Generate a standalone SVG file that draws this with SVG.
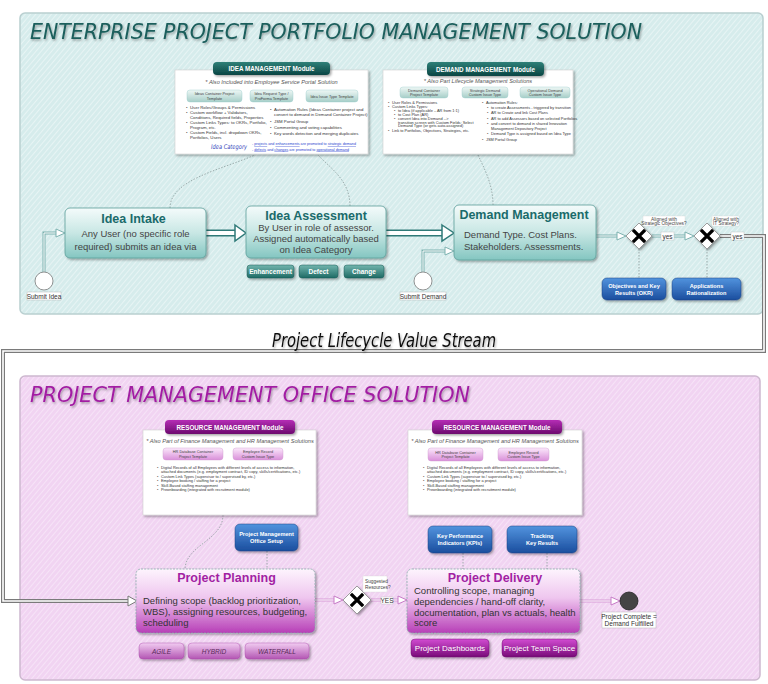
<svg xmlns="http://www.w3.org/2000/svg" width="768" height="684" viewBox="0 0 768 684">
<defs>
<pattern id="hatchT" width="4" height="4" patternUnits="userSpaceOnUse" patternTransform="rotate(40)">
<rect width="4" height="4" fill="#d6ecec"/><line x1="0" y1="0" x2="0" y2="4" stroke="#f3fbfb" stroke-width="1.2"/>
</pattern>
<pattern id="hatchP" width="4" height="4" patternUnits="userSpaceOnUse" patternTransform="rotate(40)">
<rect width="4" height="4" fill="#f1d4f2"/><line x1="0" y1="0" x2="0" y2="4" stroke="#fbeefb" stroke-width="1.2"/>
</pattern>
<linearGradient id="gTN" x1="0" y1="0" x2="0" y2="1"><stop offset="0" stop-color="#f4fbfb"/><stop offset="0.5" stop-color="#c8e7e4"/><stop offset="1" stop-color="#84c6c1"/></linearGradient>
<linearGradient id="gTB" x1="0" y1="0" x2="0" y2="1"><stop offset="0" stop-color="#72b5ae"/><stop offset="1" stop-color="#1d6a64"/></linearGradient>
<linearGradient id="gTH" x1="0" y1="0" x2="0" y2="1"><stop offset="0" stop-color="#2f8078"/><stop offset="1" stop-color="#0a4543"/></linearGradient>
<linearGradient id="gMT" x1="0" y1="0" x2="0" y2="1"><stop offset="0" stop-color="#eef7f5"/><stop offset="1" stop-color="#a6cec8"/></linearGradient>
<linearGradient id="gPN" x1="0" y1="0" x2="0" y2="1"><stop offset="0" stop-color="#fdf4fd"/><stop offset="0.45" stop-color="#efc6ef"/><stop offset="1" stop-color="#b73fb7"/></linearGradient>
<linearGradient id="gPB" x1="0" y1="0" x2="0" y2="1"><stop offset="0" stop-color="#f1ccf1"/><stop offset="1" stop-color="#b355b3"/></linearGradient>
<linearGradient id="gMB" x1="0" y1="0" x2="0" y2="1"><stop offset="0" stop-color="#d24cd2"/><stop offset="1" stop-color="#780a78"/></linearGradient>
<linearGradient id="gPH" x1="0" y1="0" x2="0" y2="1"><stop offset="0" stop-color="#b52db5"/><stop offset="1" stop-color="#6c0a6e"/></linearGradient>
<linearGradient id="gMP" x1="0" y1="0" x2="0" y2="1"><stop offset="0" stop-color="#fbe8fb"/><stop offset="1" stop-color="#d98fd9"/></linearGradient>
<linearGradient id="gBL" x1="0" y1="0" x2="0" y2="1"><stop offset="0" stop-color="#5193de"/><stop offset="1" stop-color="#1b4e9e"/></linearGradient>
<filter id="sh" x="-10%" y="-10%" width="130%" height="140%"><feDropShadow dx="1.5" dy="1.5" stdDeviation="1.2" flood-color="#000" flood-opacity="0.35"/></filter>
<filter id="tsh" x="-5%" y="-20%" width="110%" height="150%"><feDropShadow dx="1" dy="1.5" stdDeviation="0.8" flood-color="#000" flood-opacity="0.35"/></filter>
</defs>
<style>
text{font-family:"Liberation Sans",Arial,sans-serif}
.hand{font-family:"DejaVu Sans Condensed","DejaVu Sans",sans-serif;font-style:italic}
.card{fill:#fff;stroke:#d0d0d0;stroke-width:0.6;filter:url(#sh)}
.hd{font-size:6.3px;font-weight:bold;fill:#fff;text-anchor:middle}
.sub{font-size:5.6px;font-style:italic;fill:#555;text-anchor:middle}
.mbt{font-size:3.8px;fill:#444;text-anchor:middle}
.tiny{font-size:4.3px;fill:#333}
.tiny4{font-size:3.9px;fill:#333}
.ntT{font-size:12.5px;font-weight:bold;fill:#1a6b6b;text-anchor:middle}
.ntP{font-size:12.5px;font-weight:bold;fill:#a21fa3;text-anchor:middle}
.body{font-size:9.5px;fill:#444}
.bodyP{font-size:9.5px;fill:#333}
.tb{font-size:6.5px;fill:#fff;font-weight:bold;text-anchor:middle}
.bb{font-size:5.6px;fill:#fff;font-weight:bold;text-anchor:middle}
.lbl{font-size:6.5px;fill:#333;text-anchor:middle}
.gl{font-size:4.8px;fill:#444}
.dash{fill:none;stroke:#8a9a9a;stroke-width:0.8;stroke-dasharray:1.5 1.5}
.gx{stroke:#000;stroke-width:3.2;stroke-linecap:square}
</style>

<!-- panels -->
<g id="panel-eppm">
<rect x="20" y="13" width="743" height="301" rx="5" fill="url(#hatchT)" stroke="#b9cfd0" stroke-width="1.5"/>
<text class="hand" x="30" y="39" font-size="22" fill="#1b5e5c" textLength="612" lengthAdjust="spacingAndGlyphs" filter="url(#tsh)">ENTERPRISE PROJECT PORTFOLIO MANAGEMENT  SOLUTION</text>
</g>
<g id="panel-pmo">
<rect x="20" y="376" width="740" height="304" rx="5" fill="url(#hatchP)" stroke="#cdb8cf" stroke-width="1.5"/>
<text class="hand" x="30" y="402" font-size="21" fill="#a21fa3" textLength="440" lengthAdjust="spacingAndGlyphs" filter="url(#tsh)">PROJECT MANAGEMENT OFFICE SOLUTION</text>
</g>

<!-- connectors -->
<g id="connectors">
<path d="M738 236 H764 V351 H3 V601 H130" fill="none" stroke="#7a7a7a" stroke-width="4"/>
<path d="M738 236 H764 V351 H3 V601 H130" fill="none" stroke="#fff" stroke-width="1.6"/>
<polygon points="128,596 137,601 128,606" fill="#fff" stroke="#7a7a7a" stroke-width="1"/>
<text class="hand" x="272" y="347" font-size="19" fill="#111" textLength="224" lengthAdjust="spacingAndGlyphs" filter="url(#tsh)">Project Lifecycle Value Stream</text>

<path d="M44 272 V233 H57" fill="none" stroke="#7db2b0" stroke-width="3"/>
<path d="M44 272 V233 H57" fill="none" stroke="#fff" stroke-width="1"/>
<polygon points="56,229 65,233 56,237" fill="#fff" stroke="#7db2b0" stroke-width="1"/>
<path d="M206 233 H237" fill="none" stroke="#2f7a78" stroke-width="7"/>
<path d="M206 233 H237" fill="none" stroke="#fff" stroke-width="4"/>
<polygon points="235,225 246,233 235,241" fill="#fff" stroke="#2f7a78" stroke-width="1.5"/>
<path d="M386 233 H444" fill="none" stroke="#2f7a78" stroke-width="7"/>
<path d="M386 233 H444" fill="none" stroke="#fff" stroke-width="4"/>
<polygon points="442,225 454,233 442,241" fill="#fff" stroke="#2f7a78" stroke-width="1.5"/>
<path d="M423 272 V251 H446" fill="none" stroke="#7db2b0" stroke-width="3"/>
<path d="M423 272 V251 H446" fill="none" stroke="#fff" stroke-width="1"/>
<polygon points="445,247 454,251 445,255" fill="#fff" stroke="#7db2b0" stroke-width="1"/>
<path d="M596 236 H618" fill="none" stroke="#7db2b0" stroke-width="3"/>
<path d="M596 236 H618" fill="none" stroke="#fff" stroke-width="1"/>
<polygon points="617,232 626,236 617,240" fill="#fff" stroke="#7db2b0" stroke-width="1"/>
<path d="M652 236 H686" fill="none" stroke="#7db2b0" stroke-width="3"/>
<path d="M652 236 H686" fill="none" stroke="#fff" stroke-width="1"/>
<polygon points="685,232 694,236 685,240" fill="#fff" stroke="#7db2b0" stroke-width="1"/>
<path d="M720 236 H738" fill="none" stroke="#7a7a7a" stroke-width="4"/>
<path d="M720 236 H738" fill="none" stroke="#fff" stroke-width="1.6"/>
<rect x="661" y="232" width="13" height="8" fill="#fff" stroke="#bbb" stroke-width="0.4"/>
<text class="lbl" x="667.5" y="238.5">yes</text>
<rect x="731" y="232" width="13" height="8" fill="#fff" stroke="#bbb" stroke-width="0.4"/>
<text class="lbl" x="737.5" y="238.5">yes</text>
<path class="dash" d="M170 208 C170 180 220 170 255 155"/>
<path class="dash" d="M350 206 C350 180 330 168 318 155"/>
<path class="dash" d="M493 205 C493 185 485 170 478 155"/>
<path class="dash" d="M639 249 V278"/>
<path class="dash" d="M707 249 V278"/>

<path d="M315 600 H335" fill="none" stroke="#d79ad7" stroke-width="3"/>
<path d="M315 600 H335" fill="none" stroke="#fff" stroke-width="1"/>
<polygon points="334,596 343,600 334,604" fill="#fff" stroke="#c77ac7" stroke-width="1"/>
<path d="M371 600 H399" fill="none" stroke="#d79ad7" stroke-width="3"/>
<path d="M371 600 H399" fill="none" stroke="#fff" stroke-width="1"/>
<polygon points="398,596 407,600 398,604" fill="#fff" stroke="#c77ac7" stroke-width="1"/>
<rect x="381" y="597" width="12" height="7" fill="#fff" stroke="#bbb" stroke-width="0.4"/>
<text class="lbl" x="387" y="602.5" font-size="5.5">YES</text>
<path d="M580 601 H612" fill="none" stroke="#d79ad7" stroke-width="3"/>
<path d="M580 601 H612" fill="none" stroke="#fff" stroke-width="1"/>
<polygon points="611,597 620,601 611,605" fill="#fff" stroke="#c77ac7" stroke-width="1"/>
<path class="dash" d="M223 515 C223 540 186 545 185 569"/>
<path class="dash" d="M267 551 V569"/>
<path class="dash" d="M463 553 V569"/>
<path class="dash" d="M547 553 V569"/>
</g>

<!-- IDEA MANAGEMENT module -->
<g id="idea-module">
<rect class="card" x="175" y="70" width="193" height="84"/>
<rect x="213" y="62" width="117" height="13" rx="4" fill="url(#gTH)" filter="url(#sh)"/>
<text class="hd" x="271.5" y="71">IDEA MANAGEMENT Module</text>
<text class="sub" x="271.5" y="84">* Also Included into Employee Service Portal Solution</text>
<rect x="187" y="90" width="55" height="12" rx="3" fill="url(#gMT)" stroke="#9cc" stroke-width="0.4"/>
<text class="mbt" x="214.5" y="95">Ideas Container Project</text><text class="mbt" x="214.5" y="99.5">Template</text>
<rect x="250" y="90" width="43" height="12" rx="3" fill="url(#gMT)" stroke="#9cc" stroke-width="0.4"/>
<text class="mbt" x="271.5" y="95">Idea Request Type /</text><text class="mbt" x="271.5" y="99.5">ProForma Template</text>
<rect x="306" y="90" width="52" height="12" rx="3" fill="url(#gMT)" stroke="#9cc" stroke-width="0.4"/>
<text class="mbt" x="332" y="97.5">Idea Issue Type Template</text>
<text class="tiny"><tspan x="186" y="109">•</tspan><tspan x="190" y="109">User Roles/Groups  &amp; Permissions</tspan>
<tspan x="186" y="114">•</tspan><tspan x="190" y="114">Custom workflow + Validators,</tspan>
<tspan x="190" y="118.5">Conditions, Required fields, Properties</tspan>
<tspan x="186" y="124">•</tspan><tspan x="190" y="124">Custom Links Types: to OKRs, Portfolio,</tspan>
<tspan x="190" y="128.5">Program, etc.</tspan>
<tspan x="186" y="134">•</tspan><tspan x="190" y="134">Custom Fields, incl. dropdown OKRs,</tspan>
<tspan x="190" y="138.5">Portfolios, Users</tspan></text>
<text class="tiny"><tspan x="270" y="111">•</tspan><tspan x="274" y="111">Automation Rules (Ideas Container project and</tspan>
<tspan x="274" y="116">convert to demand in Demand Container Project)</tspan>
<tspan x="270" y="122.5">•</tspan><tspan x="274" y="122.5">JSM Portal Group</tspan>
<tspan x="270" y="128.5">•</tspan><tspan x="274" y="128.5">Commenting and voting capabilities</tspan>
<tspan x="270" y="134.5">•</tspan><tspan x="274" y="134.5">Key words detection and merging duplicates</tspan></text>
<text class="hand" x="211" y="149" font-size="6.5" fill="#3344bb" textLength="36" lengthAdjust="spacingAndGlyphs">Idea Category</text>
<text font-size="3.7" fill="#2a3fd0"><tspan x="252" y="145">- <tspan text-decoration="underline">projects</tspan> and <tspan text-decoration="underline">enhancements</tspan> are promoted to <tspan text-decoration="underline">strategic demand</tspan></tspan>
<tspan x="252" y="150.5">- <tspan text-decoration="underline">defects</tspan> and <tspan text-decoration="underline">changes</tspan> are promoted to <tspan text-decoration="underline">operational demand</tspan></tspan></text>
</g>

<!-- DEMAND MANAGEMENT module -->
<g id="demand-module">
<rect class="card" x="383" y="70" width="190" height="84"/>
<rect x="427" y="62" width="117" height="14" rx="4" fill="url(#gTH)" filter="url(#sh)"/>
<text class="hd" x="485.5" y="71.5">DEMAND MANAGEMENT Module</text>
<text class="sub" x="478" y="83">* Also Part Lifecycle Management Solutions</text>
<rect x="400" y="87" width="48" height="11" rx="3" fill="url(#gMT)" stroke="#9cc" stroke-width="0.4"/>
<text class="mbt" x="424" y="91.5">Demand Container</text><text class="mbt" x="424" y="96">Project Template</text>
<rect x="462" y="87" width="46" height="11" rx="3" fill="url(#gMT)" stroke="#9cc" stroke-width="0.4"/>
<text class="mbt" x="485" y="91.5">Strategic Demand</text><text class="mbt" x="485" y="96">Custom Issue Type</text>
<rect x="520" y="87" width="50" height="11" rx="3" fill="url(#gMT)" stroke="#9cc" stroke-width="0.4"/>
<text class="mbt" x="545" y="91.5">Operational Demand</text><text class="mbt" x="545" y="96">Custom Issue Type</text>
<text class="tiny4"><tspan x="388" y="104">•</tspan><tspan x="392" y="104">User Roles  &amp; Permissions</tspan>
<tspan x="388" y="108">•</tspan><tspan x="392" y="108">Custom Links Types:</tspan>
<tspan x="394" y="112">•</tspan><tspan x="398" y="112">to Idea (if applicable – AR from 1:1)</tspan>
<tspan x="394" y="116">•</tspan><tspan x="398" y="116">to Cost Plan (AR)</tspan>
<tspan x="394" y="120">•</tspan><tspan x="398" y="120">convert Idea into Demand --&gt;</tspan>
<tspan x="398" y="123.5">transition screen with Custom Fields: Select</tspan>
<tspan x="398" y="127">Demand Type (or gets auto-assigned)</tspan>
<tspan x="388" y="132">•</tspan><tspan x="392" y="132">Link to Portfolios, Objectives, Strategies, etc.</tspan></text>
<text class="tiny4"><tspan x="482" y="104">•</tspan><tspan x="486" y="104">Automation Rules:</tspan>
<tspan x="487" y="108.5">•</tspan><tspan x="491" y="108.5">to create Assessments - triggered by transition</tspan>
<tspan x="487" y="114">•</tspan><tspan x="491" y="114">AR to Create and link Cost Plans</tspan>
<tspan x="487" y="119.5">•</tspan><tspan x="491" y="119.5">AR to add Assessors based on selected Portfolios</tspan>
<tspan x="487" y="125">•</tspan><tspan x="491" y="125">and convert to demand in shared Innovation</tspan>
<tspan x="491" y="129.5">Management Depository Project</tspan>
<tspan x="487" y="135">•</tspan><tspan x="491" y="135">Demand Type is assigned based on Idea Type</tspan>
<tspan x="482" y="140.5">•</tspan><tspan x="486" y="140.5">JSM Portal Group</tspan></text>
</g>

<!-- top row nodes -->
<g id="submit-idea">
<circle cx="44" cy="281" r="9" fill="#fff" stroke="#777" stroke-width="0.8"/>
<rect x="27" y="292" width="34" height="8" fill="#fff" stroke="#aaa" stroke-width="0.4"/>
<text class="lbl" x="44" y="298.5">Submit Idea</text>
</g>
<g id="idea-intake">
<rect x="65" y="208" width="141" height="50" rx="5" fill="url(#gTN)" stroke="#5c9e9b" stroke-width="0.8" filter="url(#sh)"/>
<text class="ntT" x="133.5" y="223">Idea Intake</text>
<text class="body" x="135.5" y="237" text-anchor="middle">Any User (no specific role</text>
<text class="body" x="135.5" y="250" text-anchor="middle">required) submits an idea via</text>
</g>
<g id="idea-assessment">
<rect x="246" y="206" width="140" height="52" rx="5" fill="url(#gTN)" stroke="#5c9e9b" stroke-width="0.8" filter="url(#sh)"/>
<text class="ntT" x="316" y="220">Idea Assessment</text>
<text class="body" x="316" y="231" text-anchor="middle">By User in role of assessor.</text>
<text class="body" x="316" y="242" text-anchor="middle">Assigned automatically based</text>
<text class="body" x="316" y="253" text-anchor="middle">on Idea Category</text>
<rect x="247" y="265" width="47" height="13" rx="3" fill="url(#gTB)" stroke="#195b56" stroke-width="0.5" filter="url(#sh)"/>
<text class="tb" x="270.5" y="273.5">Enhancement</text>
<rect x="299" y="265" width="39" height="13" rx="3" fill="url(#gTB)" stroke="#195b56" stroke-width="0.5" filter="url(#sh)"/>
<text class="tb" x="318.5" y="273.5">Defect</text>
<rect x="344" y="265" width="40" height="13" rx="3" fill="url(#gTB)" stroke="#195b56" stroke-width="0.5" filter="url(#sh)"/>
<text class="tb" x="364" y="273.5">Change</text>
</g>
<g id="submit-demand">
<circle cx="423" cy="281" r="9" fill="#fff" stroke="#777" stroke-width="0.8"/>
<rect x="400" y="292" width="46" height="8" fill="#fff" stroke="#aaa" stroke-width="0.4"/>
<text class="lbl" x="423" y="298.5">Submit Demand</text>
</g>
<g id="demand-management">
<rect x="454" y="205" width="142" height="55" rx="5" fill="url(#gTN)" stroke="#5c9e9b" stroke-width="0.8" filter="url(#sh)"/>
<text class="ntT" x="524" y="219">Demand Management</text>
<text class="body" x="464" y="238">Demand Type. Cost Plans.</text>
<text class="body" x="464" y="250">Stakeholders. Assessments.</text>
</g>
<g id="gw-strategic">
<polygon points="639,223 652,236 639,249 626,236" fill="#fff" stroke="#888" stroke-width="0.8" filter="url(#sh)"/>
<path class="gx" d="M634 231 L644 241 M644 231 L634 241"/>
<rect x="643" y="216" width="42" height="10" fill="#fff" stroke="#ccc" stroke-width="0.3"/>
<text class="gl" x="664" y="220.5" text-anchor="middle">Aligned with</text>
<text class="gl" x="664" y="225" text-anchor="middle">Strategic Objectives?</text>
</g>
<g id="gw-it">
<polygon points="707,223 720,236 707,249 694,236" fill="#fff" stroke="#888" stroke-width="0.8" filter="url(#sh)"/>
<path class="gx" d="M702 231 L712 241 M712 231 L702 241"/>
<rect x="712" y="216" width="27" height="10" fill="#fff" stroke="#ccc" stroke-width="0.3"/>
<text class="gl" x="713" y="220.5">Aligned with</text>
<text class="gl" x="713" y="225">IT Strategy?</text>
</g>
<g id="okr">
<rect x="602" y="278" width="64" height="22" rx="5" fill="url(#gBL)" stroke="#1b4080" stroke-width="0.5" filter="url(#sh)"/>
<text class="bb" x="634" y="288">Objectives and Key</text>
<text class="bb" x="634" y="295">Results (OKR)</text>
</g>
<g id="app-rationalization">
<rect x="672" y="278" width="69" height="22" rx="5" fill="url(#gBL)" stroke="#1b4080" stroke-width="0.5" filter="url(#sh)"/>
<text class="bb" x="706.5" y="288">Applications</text>
<text class="bb" x="706.5" y="295">Rationalization</text>
</g>

<!-- RESOURCE MANAGEMENT modules -->
<g id="resource-module-1">
<rect class="card" x="143" y="430" width="173" height="85"/>
<rect x="165" y="420" width="130" height="14" rx="4" fill="url(#gPH)" filter="url(#sh)"/>
<text class="hd" x="230" y="429.5">RESOURCE MANAGEMENT Module</text>
<text class="sub" x="230" y="443" font-size="5">* Also Part of Finance Management and HR Management Solutions</text>
<rect x="163" y="448" width="60" height="12" rx="3" fill="url(#gMP)" stroke="#c9c" stroke-width="0.4"/>
<text class="mbt" x="193" y="453">HR Database Container</text><text class="mbt" x="193" y="457.5">Project Template</text>
<rect x="233" y="448" width="50" height="12" rx="3" fill="url(#gMP)" stroke="#c9c" stroke-width="0.4"/>
<text class="mbt" x="258" y="453">Employee Record</text><text class="mbt" x="258" y="457.5">Custom Issue Type</text>
<text class="tiny4" font-size="3.6"><tspan x="157" y="469">•</tspan><tspan x="161" y="469">Digital Records of all Employees with different levels of access to information,</tspan>
<tspan x="161" y="473">attached documents (e.g. employment contract, ID copy, skills/certifications, etc.)</tspan>
<tspan x="157" y="477.5">•</tspan><tspan x="161" y="477.5">Custom Link Types (supervisor to / supervised by, etc.)</tspan>
<tspan x="157" y="482">•</tspan><tspan x="161" y="482">Employee booking / staffing for a project</tspan>
<tspan x="157" y="486.5">•</tspan><tspan x="161" y="486.5">Skill-Based staffing management</tspan>
<tspan x="157" y="491">•</tspan><tspan x="161" y="491">Preonboarding (integrated with recruitment module)</tspan></text>
</g>
<g id="resource-module-2">
<rect class="card" x="408" y="430" width="174" height="85"/>
<rect x="432" y="420" width="130" height="14" rx="4" fill="url(#gPH)" filter="url(#sh)"/>
<text class="hd" x="497" y="429.5">RESOURCE MANAGEMENT Module</text>
<text class="sub" x="495" y="443" font-size="5">* Also Part of Finance Management and HR Management Solutions</text>
<rect x="428" y="448" width="55" height="13" rx="3" fill="url(#gMP)" stroke="#c9c" stroke-width="0.4"/>
<text class="mbt" x="455.5" y="453.5">HR Database Container</text><text class="mbt" x="455.5" y="458">Project Template</text>
<rect x="498" y="448" width="51" height="13" rx="3" fill="url(#gMP)" stroke="#c9c" stroke-width="0.4"/>
<text class="mbt" x="523.5" y="453.5">Employee Record</text><text class="mbt" x="523.5" y="458">Custom Issue Type</text>
<text class="tiny4" font-size="3.6"><tspan x="423" y="469">•</tspan><tspan x="427" y="469">Digital Records of all Employees with different levels of access to information,</tspan>
<tspan x="427" y="473">attached documents (e.g. employment contract, ID copy, skills/certifications, etc.)</tspan>
<tspan x="423" y="477.5">•</tspan><tspan x="427" y="477.5">Custom Link Types (supervisor to / supervised by, etc.)</tspan>
<tspan x="423" y="482">•</tspan><tspan x="427" y="482">Employee booking / staffing for a project</tspan>
<tspan x="423" y="486.5">•</tspan><tspan x="427" y="486.5">Skill-Based staffing management</tspan>
<tspan x="423" y="491">•</tspan><tspan x="427" y="491">Preonboarding (integrated with recruitment module)</tspan></text>
</g>

<!-- bottom row nodes -->
<g id="pmo-setup">
<rect x="235" y="524" width="63" height="27" rx="5" fill="url(#gBL)" stroke="#1b4080" stroke-width="0.5" filter="url(#sh)"/>
<text class="bb" x="266.5" y="536">Project Management</text>
<text class="bb" x="266.5" y="543">Office Setup</text>
</g>
<g id="project-planning">
<rect x="136" y="569" width="179" height="64" rx="5" fill="url(#gPN)" stroke="#8aa" stroke-width="0.8" stroke-dasharray="2 1.2" filter="url(#sh)"/>
<text class="ntP" x="226.5" y="581.5">Project Planning</text>
<text class="bodyP" x="143" y="604">Defining scope (backlog prioritization,</text>
<text class="bodyP" x="143" y="615">WBS), assigning resources, budgeting,</text>
<text class="bodyP" x="143" y="626">scheduling</text>
<rect x="139" y="643" width="45" height="16" rx="4" fill="url(#gPB)" stroke="#a4a" stroke-width="0.4" filter="url(#sh)"/>
<text x="161.5" y="653.5" font-size="6.5" font-style="italic" fill="#5a2a5a" text-anchor="middle">AGILE</text>
<rect x="188" y="643" width="52" height="16" rx="4" fill="url(#gPB)" stroke="#a4a" stroke-width="0.4" filter="url(#sh)"/>
<text x="214" y="653.5" font-size="6.5" font-style="italic" fill="#5a2a5a" text-anchor="middle">HYBRID</text>
<rect x="245" y="643" width="64" height="16" rx="4" fill="url(#gPB)" stroke="#a4a" stroke-width="0.4" filter="url(#sh)"/>
<text x="277" y="653.5" font-size="6.5" font-style="italic" fill="#5a2a5a" text-anchor="middle">WATERFALL</text>
</g>
<g id="gw-resources">
<polygon points="357,586 371,600 357,614 343,600" fill="#fff" stroke="#888" stroke-width="0.8" filter="url(#sh)"/>
<path class="gx" d="M352 595 L362 605 M362 595 L352 605"/>
<rect x="363" y="576" width="24" height="16" fill="#fff" stroke="#ccc" stroke-width="0.3"/>
<text class="gl" x="365" y="583">Suggested</text>
<text class="gl" x="365" y="588.5">Resources?</text>
</g>
<g id="kpi">
<rect x="428" y="526" width="64" height="27" rx="5" fill="url(#gBL)" stroke="#1b4080" stroke-width="0.5" filter="url(#sh)"/>
<text class="bb" x="460" y="538">Key Performance</text>
<text class="bb" x="460" y="545">Indicators (KPIs)</text>
</g>
<g id="tracking-kr">
<rect x="507" y="526" width="70" height="27" rx="5" fill="url(#gBL)" stroke="#1b4080" stroke-width="0.5" filter="url(#sh)"/>
<text class="bb" x="542" y="538">Tracking</text>
<text class="bb" x="542" y="545">Key Results</text>
</g>
<g id="project-delivery">
<rect x="407" y="569" width="173" height="64" rx="5" fill="url(#gPN)" stroke="#8aa" stroke-width="0.8" stroke-dasharray="2 1.2" filter="url(#sh)"/>
<text class="ntP" x="495" y="581.5">Project Delivery</text>
<text class="bodyP" x="414" y="594">Controlling scope, managing</text>
<text class="bodyP" x="414" y="605">dependencies / hand-off clarity,</text>
<text class="bodyP" x="414" y="615.5">documentation, plan vs actuals, health</text>
<text class="bodyP" x="414" y="626">score</text>
<rect x="411" y="639" width="78" height="18" rx="4" fill="url(#gMB)" stroke="#606" stroke-width="0.4" filter="url(#sh)"/>
<text x="450" y="651" font-size="8" fill="#fff" text-anchor="middle">Project Dashboards</text>
<rect x="502" y="639" width="75" height="18" rx="4" fill="url(#gMB)" stroke="#606" stroke-width="0.4" filter="url(#sh)"/>
<text x="539.5" y="651" font-size="8" fill="#fff" text-anchor="middle">Project Team Space</text>
</g>
<g id="project-complete">
<circle cx="629" cy="601" r="9" fill="#444" stroke="#222" stroke-width="0.8"/>
<rect x="602" y="612" width="54" height="16" fill="#fff" stroke="#aaa" stroke-width="0.4"/>
<text class="lbl" x="629" y="618.5">Project Complete =</text>
<text class="lbl" x="629" y="626">Demand Fulfilled</text>
</g>
</svg>
